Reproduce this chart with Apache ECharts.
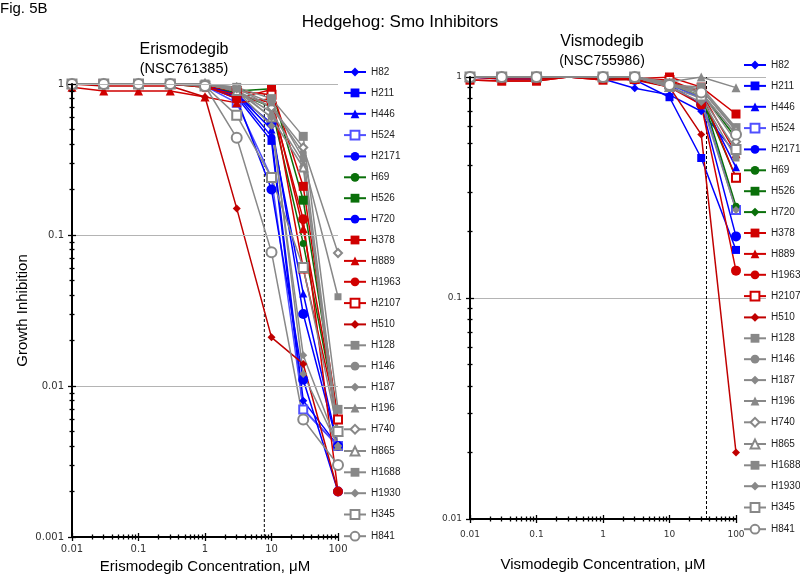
<!DOCTYPE html>
<html><head><meta charset="utf-8">
<script src="https://cdn.jsdelivr.net/npm/echarts@6/dist/echarts.min.js"></script>
<style>html,body{margin:0;padding:0;background:#fff}#c{width:800px;height:576px}</style>
</head><body><div id="c"></div>
<script>
// ---------------- DATA ----------------
const concentrations = [0.01, 0.03, 0.1, 0.3, 1, 3, 10, 30, 100];
const cellLines = ['H82','H211','H446','H524','H2171','H69','H526','H720','H378','H889','H1963','H2107','H510','H128','H146','H187','H196','H740','H865','H1688','H1930','H345','H841'];
const xTickLabels = [0.01, 0.1, 1, 10, 100];
const erisYTickLabels = [0.001, 0.01, 0.1, 1];
const visYTickLabels = [0.01, 0.1, 1];
const erisRefConc = 7.8;   const erisRefRange = [0.001, 0.87];
const visRefConc = 36;     const visRefRange = [0.01, 1];
const visUnmarkedConc = [0.3];

// Erismodegib (NSC761385) growth inhibition
const eris_H82   = [1,1,1,1,0.97,0.85,0.45,0.008,0.004];
const eris_H211  = [1,1,1,1,0.97,0.82,0.42,0.007,0.004];
const eris_H446  = [1,1,1,1,0.97,0.86,0.5,0.041,0.004];
const eris_H524  = [1,1,1,1,0.97,0.75,0.24,0.007,0.004];
const eris_H2171 = [1,1,1,1,0.97,0.8,0.2,0.011,0.002];
const eris_H69   = [1,1,1,1,0.95,0.88,0.7,0.088,0.006];
const eris_H526  = [1,1,1,1,0.97,0.9,0.93,0.17,0.006];
const eris_H720  = [1,1,1,1,0.97,0.85,0.55,0.03,0.004];
const eris_H378  = [1,1,1,1,0.97,0.8,0.92,0.21,0.006];
const eris_H889  = [0.95,0.9,0.9,0.9,0.82,0.75,0.8,0.11,0.006];
const eris_H1963 = [1,1,1,1,0.95,0.85,0.75,0.127,0.002];
const eris_H2107 = [1,1,1,1,0.97,0.9,0.85,0.06,0.006];
const eris_H510  = [1,0.97,0.97,0.97,0.82,0.15,0.021,0.014,0.002];
const eris_H128  = [1,1,1,1,1,0.95,0.8,0.45,0.007];
const eris_H146  = [1,1,1,1,1,0.9,0.7,0.35,0.005];
const eris_H187  = [1,1,1,1,1,0.9,0.53,0.016,0.004];
const eris_H196  = [1,1,1,1,1,0.9,0.65,0.3,0.004];
const eris_H740  = [1,1,1,1,1,0.95,0.7,0.38,0.076];
const eris_H865  = [1,1,1,1,1,0.9,0.6,0.28,0.005];
const eris_H1688 = [1,1,1,1,1,0.93,0.75,0.32,0.039];
const eris_H1930 = [1,1,1,1,1,0.92,0.6,0.012,0.004];
const eris_H345  = [1,1,1,1,0.97,0.62,0.24,0.061,0.005];
const eris_H841  = [1,1,1,1,0.97,0.44,0.077,0.006,0.003];

// Vismodegib (NSC755986) growth inhibition
const vis_H82   = [1,0.98,0.98,1,0.98,0.89,0.83,0.7,0.45];
const vis_H211  = [1,1,1,1,1,0.97,0.81,0.43,0.165];
const vis_H446  = [1,1,1,1,1,1,0.93,0.8,0.39];
const vis_H524  = [1,1,1,1,1,1,0.93,0.8,0.25];
const vis_H2171 = [1,1,1,1,1,0.97,0.92,0.75,0.19];
const vis_H69   = [1,1,1,1,1,0.98,0.95,0.85,0.26];
const vis_H526  = [1,1,1,1,1,0.98,0.93,0.82,0.35];
const vis_H720  = [1,1,1,1,1,0.98,0.95,0.85,0.53];
const vis_H378  = [0.97,0.96,0.96,1,0.97,0.98,1.0,0.9,0.68];
const vis_H889  = [0.97,0.96,0.96,1,0.97,0.98,0.95,0.85,0.45];
const vis_H1963 = [1,1,1,1,1,0.98,0.9,0.75,0.133];
const vis_H2107 = [1,1,1,1,1,0.98,0.97,0.85,0.35];
const vis_H510  = [1,0.98,0.98,1,0.98,0.97,0.9,0.55,0.02];
const vis_H128  = [1,1,1,1,1,1,0.92,0.9,0.59];
const vis_H146  = [1,1,1,1,1,1,0.93,0.88,0.57];
const vis_H187  = [1,1,1,1,1,1,0.92,0.85,0.55];
const vis_H196  = [1,1,1,1,1,1,0.95,1.0,0.895];
const vis_H740  = [1,1,1,1,1,1,0.93,0.85,0.51];
const vis_H865  = [1,1,1,1,1,1,0.9,0.88,0.58];
const vis_H1688 = [1,1,1,1,1,1,0.9,0.8,0.43];
const vis_H1930 = [1,1,1,1,1,1,0.9,0.77,0.25];
const vis_H345  = [1,1,1,1,1,1,0.93,0.82,0.47];
const vis_H841  = [1,1,1,1,1,1,0.92,0.85,0.55];

const erisValues = [eris_H82,eris_H211,eris_H446,eris_H524,eris_H2171,eris_H69,eris_H526,eris_H720,eris_H378,eris_H889,eris_H1963,eris_H2107,eris_H510,eris_H128,eris_H146,eris_H187,eris_H196,eris_H740,eris_H865,eris_H1688,eris_H1930,eris_H345,eris_H841];
const visValues = [vis_H82,vis_H211,vis_H446,vis_H524,vis_H2171,vis_H69,vis_H526,vis_H720,vis_H378,vis_H889,vis_H1963,vis_H2107,vis_H510,vis_H128,vis_H146,vis_H187,vis_H196,vis_H740,vis_H865,vis_H1688,vis_H1930,vis_H345,vis_H841];

// ---------------- STYLES ----------------
const BLUE='#0000ff', BLUE_LT='#5050ff', GREEN='#0a700a', RED='#d00000', DRED='#c00000', GREY='#888888';
const erisStyles = [
  [BLUE,'diamond',8],[BLUE,'rect',8],[BLUE,'triangle',8],[BLUE_LT,'emptyRect',8],[BLUE,'circle',10],
  [GREEN,'circle',7],[GREEN,'rect',9],[BLUE,'circle',10],
  [RED,'rect',9],[RED,'triangle',9],[RED,'circle',10],[RED,'emptyRect',8],[DRED,'diamond',8],
  [GREY,'rect',9],[GREY,'circle',7],[GREY,'diamond',8],[GREY,'triangle',9],[GREY,'emptyDiamond',8],
  [GREY,'emptyTriangle',8],[GREY,'rect',7],[GREY,'diamond',8],[GREY,'emptyRect',9],[GREY,'emptyCircle',10]
];
const visStyles = erisStyles.map((s,i)=> cellLines[i]==='H720' ? [GREEN,'diamond',7] : s);

const TICK_FONT = 'DejaVu Sans';
const TEXT_FONT = 'Liberation Sans';

function fmt(v){ return String(+(+v).toPrecision(3)); }
function minorTicks(lo, hi){ const out=[]; for(let d=lo; d<hi; d*=10){ for(let k=2;k<=9;k++) out.push(+(d*k).toPrecision(3)); } return out; }

function tickAxis(dim, gridIndex, min, max, ticks, len, inside){
  return {
    type:'log', logBase:10, gridIndex, min, max,
    position: dim==='x' ? 'bottom' : 'left',
    axisLine:{show:false, onZero:false},
    splitLine:{show:false},
    axisLabel:{show:false},
    axisTick:{show:true, inside, length:len, customValues:ticks, lineStyle:{color:'#000', width:1.3}},
    z:5, silent:true
  };
}
function mainAxis(dim, gridIndex, min, max, labels, fontSize, labelMargin, name, nameGap, splitShow){
  return {
    type:'log', logBase:10, gridIndex, min, max,
    position: dim==='x' ? 'bottom' : 'left',
    axisLine:{show:true, onZero:false, lineStyle:{color:'#000', width:2}},
    axisTick:{show:true, inside:false, length:4, customValues:labels, lineStyle:{color:'#000', width:1.3}},
    axisLabel:{show:true, customValues:labels, formatter:fmt, fontSize, fontFamily:TICK_FONT, color:'#333', margin:labelMargin},
    splitLine:{show:splitShow, showMinLine:false, lineStyle:{color:'#b4b4b4', width:1}},
    name, nameLocation:'middle', nameGap,
    nameTextStyle:{fontSize:15, fontFamily:TEXT_FONT, color:'#000'},
    z:5
  };
}
function axisSet(dim, gridIndex, min, max, labels, minorLo, fontSize, margin, name, nameGap, splitShow){
  const minors = minorTicks(minorLo, max);
  return [
    mainAxis(dim, gridIndex, min, max, labels, fontSize, margin, name, nameGap, splitShow),
    tickAxis(dim, gridIndex, min, max, labels, 4, true),
    tickAxis(dim, gridIndex, min, max, minors, 2.5, false),
    tickAxis(dim, gridIndex, min, max, minors, 2.5, true)
  ];
}

const xAxes = [
  ...axisSet('x', 0, 0.01, 100, xTickLabels, 0.01, 10, 7, 'Erismodegib Concentration, \u03bcM', 20, false),
  ...axisSet('x', 1, 0.01, 100, xTickLabels, 0.01, 9, 11, 'Vismodegib Concentration, \u03bcM', 38, false),
  {type:'value', gridIndex:2, min:0, max:1, show:false}
];
const yAxes = [
  ...axisSet('y', 0, 0.001, 1, erisYTickLabels, 0.001, 10, 8, 'Growth Inhibition', 42, true),
  ...axisSet('y', 1, 0.01, 1, visYTickLabels, 0.01, 9, 8, '', 0, false),
  {type:'log', logBase:10, gridIndex:2, min:0.01, max:1, axisLine:{show:false,onZero:false}, axisTick:{show:false}, axisLabel:{show:false},
   splitLine:{show:true, showMinLine:false, lineStyle:{color:'#b4b4b4', width:1}}}
];

function buildSeries(values, styles, axisIdx, prefix, unmarked){
  return values.map((vals, i) => {
    const [color, symbol, size] = styles[i];
    return {
      type:'line', name: prefix + cellLines[i],
      xAxisIndex: axisIdx, yAxisIndex: axisIdx,
      data: concentrations.map((c, j) => unmarked.includes(c) ? {value:[c, vals[j]], symbol:'none'} : [c, vals[j]]),
      symbol, symbolSize:size, showAllSymbol:true,
      lineStyle:{color, width:1.5},
      itemStyle:{color, borderColor:color, borderWidth: symbol.startsWith('empty') ? 1.2 : 0},
      emphasis:{disabled:true}, animation:false, z:3
    };
  });
}

const series = [
  ...buildSeries(erisValues, erisStyles, 0, '', []),
  ...buildSeries(visValues, visStyles, 4, 'v:', visUnmarkedConc),
  {type:'line', name:'eris-ref', xAxisIndex:0, yAxisIndex:0, data: erisRefRange.map(v=>[erisRefConc, v]),
   symbol:'none', lineStyle:{color:'#000', width:1, type:[3,2]}, z:2, silent:true},
  {type:'line', name:'vis-ref', xAxisIndex:4, yAxisIndex:4, data: visRefRange.map(v=>[visRefConc, v]),
   symbol:'none', lineStyle:{color:'#000', width:1, type:[3,2]}, z:2, silent:true}
];

function legendCfg(left, top, names){
  return {
    orient:'vertical', left, top, padding:0, itemWidth:22, itemHeight:11, itemGap:10.9,
    data: names, selectedMode:false,
    formatter: n => n.replace('v:',''),
    textStyle:{fontSize:10, fontFamily:TEXT_FONT, color:'#222'}
  };
}

function txt(text, x, y, size, align){
  return {type:'text', silent:true, style:{text, x, y, fill:'#000', fontSize:size, fontFamily:TEXT_FONT,
    textAlign:align||'center', textVerticalAlign:'middle', align:align||'center', verticalAlign:'middle'}};
}

const option = {
  animation:false,
  backgroundColor:'#fff',
  graphic: [
    txt('Fig. 5B', 0, 9, 15, 'left'),
    txt('Hedgehog: Smo Inhibitors', 400, 22, 17),
    txt('Erismodegib', 184, 50, 16),
    txt('(NSC761385)', 184, 69, 14.5),
    txt('Vismodegib', 602, 42, 16),
    txt('(NSC755986)', 602, 61, 14)
  ],
  grid: [
    {left:72, top:84, width:266, height:453, outerBoundsMode:'none', containLabel:false},
    {left:470, top:77, width:266, height:442, outerBoundsMode:'none', containLabel:false},
    {left:470, top:77, width:296, height:442, outerBoundsMode:'none', containLabel:false}
  ],
  xAxis: xAxes,
  yAxis: yAxes,
  legend: [
    legendCfg(343, 67, cellLines.slice()),
    legendCfg(743, 60, cellLines.map(n => 'v:' + n))
  ],
  series
};

const chart = echarts.init(document.getElementById('c'), null, {renderer:'canvas'});
chart.setOption(option);
</script>
</body></html>
